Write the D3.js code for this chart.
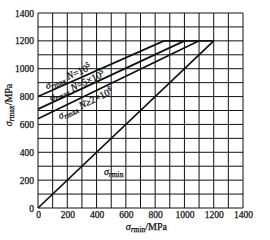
<!DOCTYPE html>
<html><head><meta charset="utf-8">
<script src="https://cdn.jsdelivr.net/npm/d3@7"></script>
<style>
html,body{margin:0;padding:0;background:#fff;}
svg{display:block;}
text{font-family:"Liberation Serif","Times New Roman",serif;fill:#111;stroke:#111;stroke-width:0.25;}
</style></head>
<body>
<svg id="c" width="270" height="240"></svg>
<script>
// ---- data ----
const xTickValues = [0, 200, 400, 600, 800, 1000, 1200, 1400];
const yTickValues = [0, 200, 400, 600, 800, 1000, 1200, 1400];
const gridValues = [0,100,200,300,400,500,600,700,800,900,1000,1100,1200,1300,1400];
const seriesN1e5 = [[0, 800], [860, 1200]];
const seriesN5e5 = [[0, 710], [1000, 1200]];
const seriesN2e6 = [[0, 640], [1100, 1200]];
const seriesMin = [[0, 0], [1200, 1200]];
const capLine = [[860, 1200], [1200, 1200]];

const svg = d3.select("#c");
const m = {l: 38, t: 13, r: 27, b: 32};
const W = 270 - m.l - m.r, H = 240 - m.t - m.b;
const x = d3.scaleLinear().domain([0, 1400]).range([m.l, m.l + W]);
const y = d3.scaleLinear().domain([0, 1400]).range([m.t + H, m.t]);

// grid
const g = svg.append("g");
g.selectAll("line.v").data(gridValues).enter().append("line")
  .attr("x1", d => x(d)).attr("x2", d => x(d)).attr("y1", y(0)).attr("y2", y(1400))
  .attr("stroke", "#111").attr("stroke-width", 1);
g.selectAll("line.h").data(gridValues).enter().append("line")
  .attr("y1", d => y(d)).attr("y2", d => y(d)).attr("x1", x(0)).attr("x2", x(1400))
  .attr("stroke", "#111").attr("stroke-width", 1);

// axes labels
const yAxis = d3.axisLeft(y).tickValues(yTickValues).tickSize(0).tickPadding(4).tickFormat(d3.format("d"));
const ya = svg.append("g").attr("transform", `translate(${x(0)},0)`).call(yAxis);
ya.select(".domain").remove();
ya.selectAll("text").attr("font-size", 9.5).attr("font-family", "Liberation Serif").attr("fill", "#111");
const xAxis = d3.axisBottom(x).tickValues(xTickValues).tickSize(0).tickPadding(3).tickFormat(d3.format("d"));
const xa = svg.append("g").attr("transform", `translate(0,${y(0)})`).call(xAxis);
xa.select(".domain").remove();
xa.selectAll("text").attr("font-size", 9.5).attr("font-family", "Liberation Serif").attr("fill", "#111");

// lines
const line = d3.line().x(d => x(d[0])).y(d => y(d[1]));
[seriesN1e5, seriesN5e5, seriesN2e6, seriesMin, capLine].forEach(s => {
  svg.append("path").attr("d", line(s)).attr("fill", "none")
    .attr("stroke", "#111").attr("stroke-width", 1.7);
});

// labels along lines
function sigma(t, sub) {
  t.append("tspan").attr("font-style", "italic").text("σ");
  t.append("tspan").attr("font-size", 7.5).attr("dy", 2).attr("font-style", "italic").text("r");
  t.append("tspan").attr("font-size", 7.5).text(sub);
  t.append("tspan").attr("dy", -2).text(" ");
}
function lineLabel(s, xs, off, sup, pre) {
  const a = s[0], b = s[1];
  const ang = Math.atan2(y(b[1]) - y(a[1]), x(b[0]) - x(a[0])) * 180 / Math.PI;
  const yv = a[1] + (b[1] - a[1]) * (xs - a[0]) / (b[0] - a[0]);
  const t = svg.append("text").attr("font-size", 10)
    .attr("transform", `translate(${x(xs)},${y(yv)}) rotate(${ang}) translate(0,${off})`);
  sigma(t, "max");
  t.append("tspan").attr("font-style", "italic").text("N");
  t.append("tspan").text(pre);
  t.append("tspan").attr("font-size", 7).attr("dy", -4).text(sup);
}
lineLabel(seriesN1e5, 70, -3, "5", "=10");
lineLabel(seriesN5e5, 95, -1.5, "5", "=5×10");
lineLabel(seriesN2e6, 120, 10, "6", "≥2×10");

// sigma rmin label
const tm = svg.append("text").attr("font-size", 10).attr("x", x(450)).attr("y", y(240));
tm.append("tspan").attr("font-style", "italic").text("σ");
tm.append("tspan").attr("font-size", 7.5).attr("dy", 2).attr("font-style", "italic").text("r");
tm.append("tspan").attr("font-size", 7.5).text("min");

// axis titles
const xt = svg.append("text").attr("font-size", 10).attr("text-anchor", "middle")
  .attr("x", x(740)).attr("y", 230);
xt.append("tspan").attr("font-style", "italic").text("σ");
xt.append("tspan").attr("font-size", 7.5).attr("dy", 2).attr("font-style", "italic").text("r");
xt.append("tspan").attr("font-size", 7.5).text("min");
xt.append("tspan").attr("dy", -2).text("/MPa");

const yt = svg.append("text").attr("font-size", 10).attr("text-anchor", "middle")
  .attr("transform", `translate(12,${y(740)}) rotate(-90)`);
yt.append("tspan").attr("font-style", "italic").text("σ");
yt.append("tspan").attr("font-size", 7.5).attr("dy", 2).attr("font-style", "italic").text("r");
yt.append("tspan").attr("font-size", 7.5).text("max");
yt.append("tspan").attr("dy", -2).text("/MPa");
</script>
</body></html>
